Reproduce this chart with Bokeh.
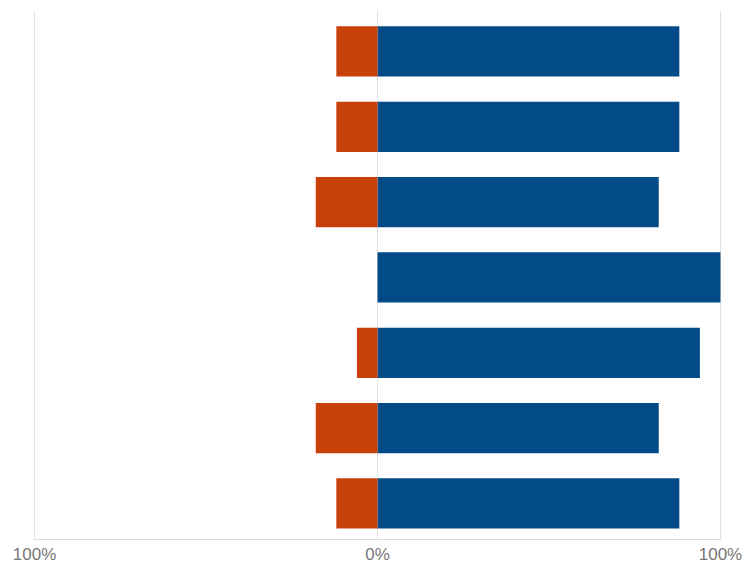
from bokeh.plotting import figure
from bokeh.models import FixedTicker, ColumnDataSource, Range1d
from bokeh.embed import file_html
from bokeh.resources import INLINE

categories = ["Item 1", "Item 2", "Item 3", "Item 4", "Item 5", "Item 6", "Item 7"]
negative = [12, 12, 18, 0, 6, 18, 12]      # share shown to the left of 0 (orange)
positive = [88, 88, 82, 100, 94, 82, 88]   # share shown to the right of 0 (blue)
tick_values = [-100, 0, 100]
tick_labels = ["100%", "0%", "100%"]

BLUE = "#024B87"
ORANGE = "#C8410B"

src = ColumnDataSource(dict(
    cat=categories,
    idx=list(range(len(categories))),
    neg=[-v for v in negative],
    pos=positive,
))

n = len(categories)
p = figure(
    width=754, height=567,
    x_range=(-100.3, 100.3),
    y_range=Range1d(start=n - 1 + 0.478, end=-0.544),
    output_backend="svg", toolbar_location=None,
    min_border_left=33, min_border_right=33, min_border_top=10, min_border_bottom=28,
)

p.hbar(y="idx", left=0, right="pos", height=0.667, source=src,
       fill_color=BLUE, line_color=None)
p.hbar(y="idx", left="neg", right=0, height=0.667, source=src,
       fill_color=ORANGE, line_color=None)

p.outline_line_color = None
p.background_fill_color = "white"
p.border_fill_color = "white"

p.yaxis.visible = False
p.ygrid.grid_line_color = None

p.xaxis.ticker = FixedTicker(ticks=tick_values)
p.xaxis.major_label_overrides = {t: l for t, l in zip(tick_values, tick_labels)}
p.xaxis.major_tick_line_color = None
p.xaxis.minor_tick_line_color = None
p.xaxis.major_tick_out = 0
p.xaxis.major_tick_in = 0
p.xaxis.major_label_standoff = 5
p.xaxis.axis_line_color = "#dcdcdc"
p.xaxis.major_label_text_font = "Liberation Sans"
p.xaxis.major_label_text_font_size = "17px"
p.xaxis.major_label_text_color = "#777777"

p.xgrid.ticker = FixedTicker(ticks=tick_values)
p.xgrid.grid_line_color = "#e3e3e3"

open("out.html", "w").write(file_html(p, INLINE))
